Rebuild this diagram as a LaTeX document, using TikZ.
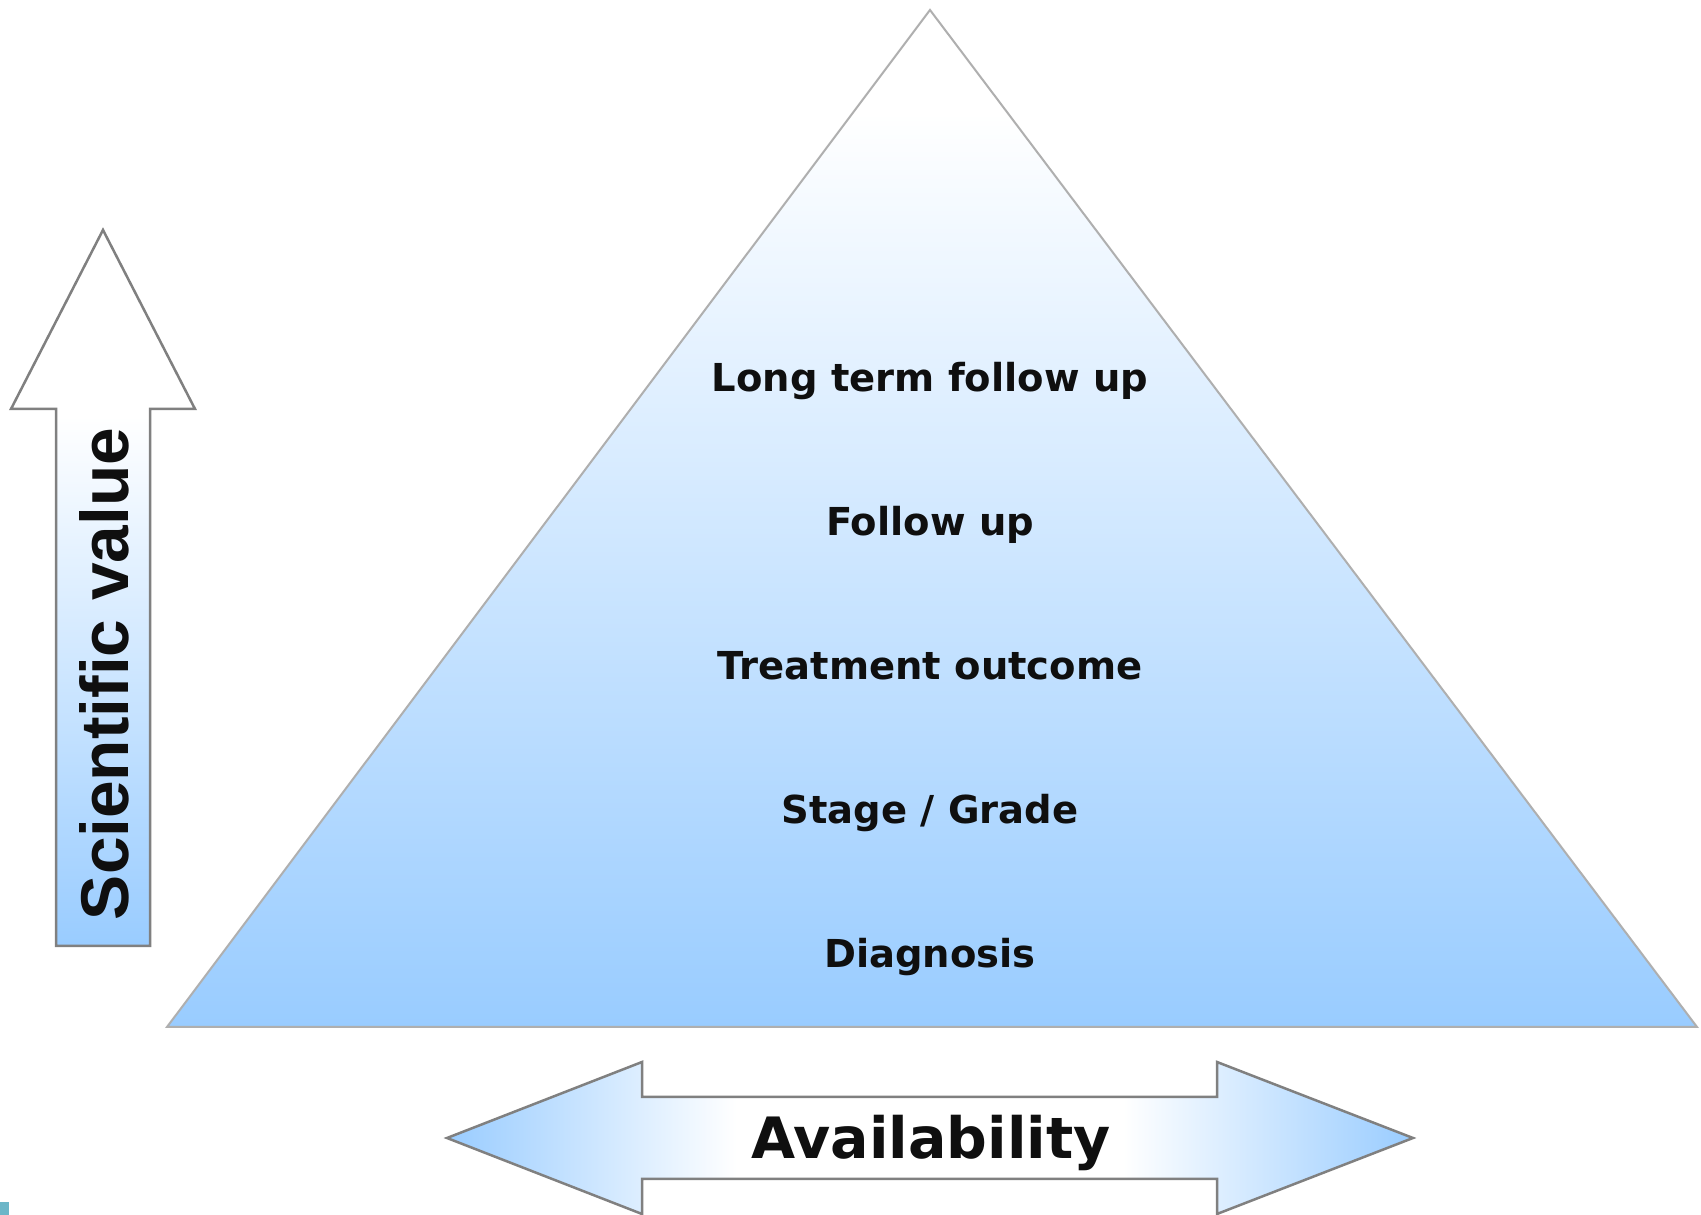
\documentclass[tikz,border=0pt]{standalone}
\usepackage{fontspec}
\newfontfamily\verdf{DejaVu Sans}
\newfontfamily\arialf{Liberation Sans}
\definecolor{pblue}{RGB}{153,204,255}
\definecolor{edgegray}{RGB}{175,175,175}
\definecolor{arrgray}{RGB}{128,128,128}
\definecolor{tealsq}{RGB}{108,182,200}
\definecolor{txt}{RGB}{15,15,15}
\pgfdeclareverticalshading{pyrshade}{100bp}{color(0bp)=(pblue); color(25bp)=(pblue); color(70bp)=(white); color(100bp)=(white)}
\pgfdeclareverticalshading{upshade}{100bp}{color(0bp)=(pblue); color(25bp)=(pblue); color(62bp)=(white); color(100bp)=(white)}
\pgfdeclarehorizontalshading{availshade}{100bp}{color(0bp)=(pblue); color(25bp)=(pblue); color(40bp)=(white); color(60bp)=(white); color(75bp)=(pblue); color(100bp)=(pblue)}
\begin{document}
\begin{tikzpicture}[x=1pt,y=1pt,
  lbl/.style={font=\verdf\bfseries\fontsize{38.5}{40}\selectfont, text=txt, inner sep=0pt, anchor=base},
  arrowshape/.style={draw=arrgray, line width=2.5pt, line join=miter}]
\useasboundingbox (0,0) rectangle (1701,1215);
\fill[white] (0,0) rectangle (1701,1215);
% pyramid
\coordinate (apex) at (930,1205);
\coordinate (bl) at (167,188);
\coordinate (br) at (1697,188);
\shadedraw[shading=pyrshade, draw=edgegray, line width=2pt] (apex) -- (bl) -- (br) -- cycle;
\node[lbl] (t1) at (930,823) {Long term follow up};
\node[lbl] (t2) at (930,679) {Follow up};
\node[lbl] (t3) at (930,535) {Treatment outcome};
\node[lbl] (t4) at (930,391) {Stage / Grade};
\node[lbl] (t5) at (930,247) {Diagnosis};
% up arrow
\shadedraw[shading=upshade, arrowshape] (103,985) -- (195,806) -- (150,806) -- (150,269) -- (56,269) -- (56,806) -- (11,806) -- cycle;
\node[rotate=90, font=\arialf\bfseries\fontsize{67.6}{70}\selectfont, text=txt, inner sep=0pt] (sv) at (104,541) {Scientific value};
% double arrow
\shadedraw[shading=availshade, arrowshape] (447,77) -- (642,153) -- (642,118) -- (1217,118) -- (1217,153) -- (1413,77) -- (1217,1) -- (1217,36) -- (642,36) -- (642,1) -- cycle;
\node[font=\verdf\bfseries\fontsize{57}{60}\selectfont, text=txt, inner sep=0pt, anchor=base] (av) at (931,56) {Availability};
% small corner square
\fill[tealsq] (0,0) rectangle (9,13);
\end{tikzpicture}
\end{document}
